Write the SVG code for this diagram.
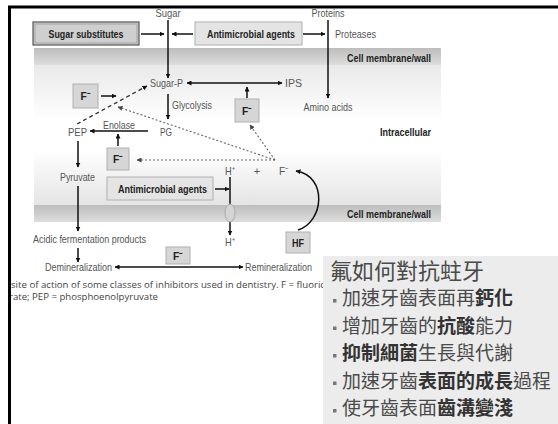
<svg xmlns="http://www.w3.org/2000/svg" width="558" height="424" viewBox="0 0 558 424">
<defs>
<linearGradient id="band" x1="0" y1="0" x2="0" y2="1"><stop offset="0" stop-color="#bdbdbd"/><stop offset="1" stop-color="#dddddd"/></linearGradient>
<linearGradient id="fadeDown" x1="0" y1="0" x2="0" y2="1"><stop offset="0" stop-color="#e9e9e9"/><stop offset="1" stop-color="#ffffff"/></linearGradient>
<linearGradient id="fadeUp" x1="0" y1="0" x2="0" y2="1"><stop offset="0" stop-color="#ffffff"/><stop offset="1" stop-color="#e4e4e4"/></linearGradient>
<marker id="ah" viewBox="0 0 10 10" refX="9" refY="5" markerWidth="5" markerHeight="5" orient="auto-start-reverse" markerUnits="userSpaceOnUse"><path d="M0,0 L10,5 L0,10 z" fill="#111"/></marker>
<marker id="ahg" viewBox="0 0 10 10" refX="9" refY="5" markerWidth="5" markerHeight="5" orient="auto" markerUnits="userSpaceOnUse"><path d="M0,0 L10,5 L0,10 z" fill="#444"/></marker>
</defs>
<style>
.t{font-family:"Liberation Sans Narrow","Liberation Sans",Arial,sans-serif;font-size:11px;fill:#555}
.b{font-family:"Liberation Sans Narrow","Liberation Sans",Arial,sans-serif;font-size:11px;font-weight:bold;fill:#222}
.ln{stroke:#111;stroke-width:1.5;fill:none}
.dash{stroke:#333;stroke-width:1.3;stroke-dasharray:4 3;fill:none}
.dot{stroke:#666;stroke-width:1.1;stroke-dasharray:2 2;fill:none}
.fbox{fill:#d6d6d6;stroke:#b0b0b0;stroke-width:1}
.abox{fill:#e4e4e4;stroke:#b0b0b0;stroke-width:1}
.cap{font-family:"Open Sans","Liberation Sans",sans-serif;font-size:9.5px;fill:#444}
.zh{font-family:"Noto Sans CJK TC","Noto Sans CJK SC",sans-serif;fill:#4a4a4a}
.bd{font-weight:bold;fill:#333}
.bul{fill:#777}
</style>
<rect x="0" y="0" width="558" height="424" fill="#fff"/>
<rect x="34" y="65" width="407" height="55" fill="url(#fadeDown)"/>
<rect x="34" y="150" width="407" height="55" fill="url(#fadeUp)"/>
<rect x="34" y="48" width="407" height="17" fill="url(#band)"/>
<rect x="34" y="205" width="407" height="17" fill="url(#band)"/>
<text class="b" x="431" y="61.5" text-anchor="end" textLength="84" lengthAdjust="spacingAndGlyphs">Cell membrane/wall</text>
<text class="b" x="431" y="217.5" text-anchor="end" textLength="84" lengthAdjust="spacingAndGlyphs">Cell membrane/wall</text>
<text class="b" x="431" y="136" text-anchor="end" textLength="51" lengthAdjust="spacingAndGlyphs">Intracellular</text>

<g id="connectors">
<path class="ln" d="M168 20 V78" marker-end="url(#ah)"/>
<path class="ln" d="M141 34 H164" marker-end="url(#ah)"/>
<path class="ln" d="M193 34 H172" marker-end="url(#ah)"/>
<path class="ln" d="M303 34 H325" marker-end="url(#ah)"/>
<path class="ln" d="M328 20 V98" marker-end="url(#ah)"/>
<path class="ln" d="M187 83 H282" marker-start="url(#ah)" marker-end="url(#ah)"/>
<path class="ln" d="M168 94 V119" marker-end="url(#ah)"/>
<path class="ln" d="M247 98 V87" marker-end="url(#ah)"/>
<path class="ln" d="M101 96 H116" marker-end="url(#ah)"/>
<path class="ln" d="M148 131 H90" marker-end="url(#ah)"/>
<path class="ln" d="M118 146 V134" marker-end="url(#ah)"/>
<path class="ln" d="M78 141 V167" marker-end="url(#ah)"/>
<path class="ln" d="M78 186 V231" marker-end="url(#ah)"/>
<path class="ln" d="M78 248 V262" marker-end="url(#ah)"/>
<path class="ln" d="M115 267 H243" marker-start="url(#ah)" marker-end="url(#ah)"/>
<path class="ln" d="M215 189 H229" marker-end="url(#ah)"/>
<path class="ln" d="M230 177 V235" marker-end="url(#ah)"/>
<path class="dash" d="M77 124 L147 86" marker-end="url(#ah)"/>
<path class="dot" d="M275 160 L118 107" marker-end="url(#ahg)"/>
<path class="dot" d="M275 160 H137" marker-end="url(#ahg)"/>
<path class="dot" d="M275 160 L250 125" marker-end="url(#ahg)"/>
<path class="ln" d="M298 230 C324 222 328 176 296 171" marker-end="url(#ah)"/>
</g>
<ellipse cx="230" cy="213" rx="5" ry="9" fill="#d4d4d4" stroke="#aaa" stroke-width="1"/>

<g id="sugar"><text class="t" x="168" y="17" text-anchor="middle" textLength="25" lengthAdjust="spacingAndGlyphs">Sugar</text></g>
<g id="proteins"><text class="t" x="328" y="17" text-anchor="middle" textLength="33" lengthAdjust="spacingAndGlyphs">Proteins</text></g>
<g id="sugar-substitutes"><rect x="33" y="22" width="106" height="23" fill="#cfcfcf" stroke="#555" stroke-width="1.2"/><rect x="35" y="24" width="102" height="19" fill="none" stroke="#999" stroke-width="0.8"/><text class="b" x="86" y="38" text-anchor="middle" textLength="75" lengthAdjust="spacingAndGlyphs">Sugar substitutes</text></g>
<g id="antimicrobial-1"><rect class="abox" x="195" y="22" width="107" height="23"/><text class="b" x="251" y="38" text-anchor="middle" textLength="88" lengthAdjust="spacingAndGlyphs">Antimicrobial agents</text></g>
<g id="proteases"><text class="t" x="335" y="38" textLength="41" lengthAdjust="spacingAndGlyphs">Proteases</text></g>
<g id="sugar-p"><text class="t" x="150" y="87" textLength="33" lengthAdjust="spacingAndGlyphs">Sugar-P</text></g>
<g id="ips"><text class="t" x="285" y="87" textLength="17" lengthAdjust="spacingAndGlyphs">IPS</text></g>
<g id="amino-acids"><text class="t" x="328" y="111" text-anchor="middle" textLength="49" lengthAdjust="spacingAndGlyphs">Amino acids</text></g>
<g id="f-1"><rect class="fbox" x="73" y="84" width="25" height="24"/><text class="b" x="85.5" y="100" text-anchor="middle" textLength="10" lengthAdjust="spacingAndGlyphs">F⁻</text></g>
<g id="glycolysis"><text class="t" x="172" y="109" textLength="40" lengthAdjust="spacingAndGlyphs">Glycolysis</text></g>
<g id="f-2"><rect class="fbox" x="235" y="99" width="24" height="23"/><text class="b" x="247" y="115" text-anchor="middle" textLength="10" lengthAdjust="spacingAndGlyphs">F⁻</text></g>
<g id="pep"><text class="t" x="77.5" y="136" text-anchor="middle" textLength="19" lengthAdjust="spacingAndGlyphs">PEP</text></g>
<g id="enolase"><text class="t" x="119" y="129" text-anchor="middle" textLength="32" lengthAdjust="spacingAndGlyphs">Enolase</text></g>
<g id="pg"><text class="t" x="166" y="136" text-anchor="middle" textLength="12" lengthAdjust="spacingAndGlyphs">PG</text></g>
<g id="f-3"><rect class="fbox" x="107" y="148" width="22" height="22"/><text class="b" x="118" y="163" text-anchor="middle" textLength="10" lengthAdjust="spacingAndGlyphs">F⁻</text></g>
<g id="pyruvate"><text class="t" x="77.5" y="181" text-anchor="middle" textLength="35" lengthAdjust="spacingAndGlyphs">Pyruvate</text></g>
<g id="h-in"><text class="t" x="230" y="175" text-anchor="middle" textLength="10" lengthAdjust="spacingAndGlyphs">H⁺</text></g>
<g id="plus"><text class="t" x="257" y="175" text-anchor="middle" font-size="9">+</text></g>
<g id="f-in"><text class="t" x="284" y="175" text-anchor="middle" textLength="10" lengthAdjust="spacingAndGlyphs">F⁻</text></g>
<g id="antimicrobial-2"><rect class="abox" x="107" y="177" width="106" height="23"/><text class="b" x="162.5" y="193" text-anchor="middle" textLength="89" lengthAdjust="spacingAndGlyphs">Antimicrobial agents</text></g>
<g id="h-out"><text class="t" x="230" y="246" text-anchor="middle" textLength="10" lengthAdjust="spacingAndGlyphs">H⁺</text></g>
<g id="hf"><rect class="fbox" x="286" y="232" width="24" height="21"/><text class="b" x="298" y="247" text-anchor="middle" textLength="12" lengthAdjust="spacingAndGlyphs">HF</text></g>
<g id="acidic"><text class="t" x="89.5" y="243" text-anchor="middle" textLength="113" lengthAdjust="spacingAndGlyphs">Acidic fermentation products</text></g>
<g id="f-4"><rect class="fbox" x="166" y="247" width="24" height="17"/><text class="b" x="178" y="259.5" text-anchor="middle" textLength="10" lengthAdjust="spacingAndGlyphs">F⁻</text></g>
<g id="demineralization"><text class="t" x="78.5" y="271" text-anchor="middle" textLength="67" lengthAdjust="spacingAndGlyphs">Demineralization</text></g>
<g id="remineralization"><text class="t" x="245" y="271" textLength="67" lengthAdjust="spacingAndGlyphs">Remineralization</text></g>

<g id="caption">
<text class="cap" x="11" y="288" textLength="314" lengthAdjust="spacingAndGlyphs">site of action of some classes of inhibitors used in dentistry. F = fluoric</text>
<text class="cap" x="9" y="300" textLength="149" lengthAdjust="spacingAndGlyphs">rate; PEP = phosphoenolpyruvate</text>
</g>

<g id="frame">
<line x1="8" y1="7" x2="558" y2="7" stroke="#000" stroke-width="3"/>
<line x1="9.5" y1="6" x2="9.5" y2="424" stroke="#000" stroke-width="3"/>
</g>

<g id="panel">
<rect x="323" y="256" width="235" height="168" fill="#ececec"/>
<text class="zh" x="330" y="279" font-size="22">氟如何對抗蛀牙</text>
<rect class="bul" x="333" y="299" width="3.5" height="3.5"/>
<text class="zh" x="342" y="305" font-size="19">加速牙齒表面再<tspan class="bd">鈣化</tspan></text>
<rect class="bul" x="333" y="326.5" width="3.5" height="3.5"/>
<text class="zh" x="342" y="332.5" font-size="19">增加牙齒的<tspan class="bd">抗酸</tspan>能力</text>
<rect class="bul" x="333" y="354" width="3.5" height="3.5"/>
<text class="zh" x="342" y="360" font-size="19"><tspan class="bd">抑制細菌</tspan>生長與代謝</text>
<rect class="bul" x="333" y="381.5" width="3.5" height="3.5"/>
<text class="zh" x="342" y="387.5" font-size="19">加速牙齒<tspan class="bd">表面的成長</tspan>過程</text>
<rect class="bul" x="333" y="409" width="3.5" height="3.5"/>
<text class="zh" x="342" y="415" font-size="19">使牙齒表面<tspan class="bd">齒溝變淺</tspan></text>
</g>
</svg>
